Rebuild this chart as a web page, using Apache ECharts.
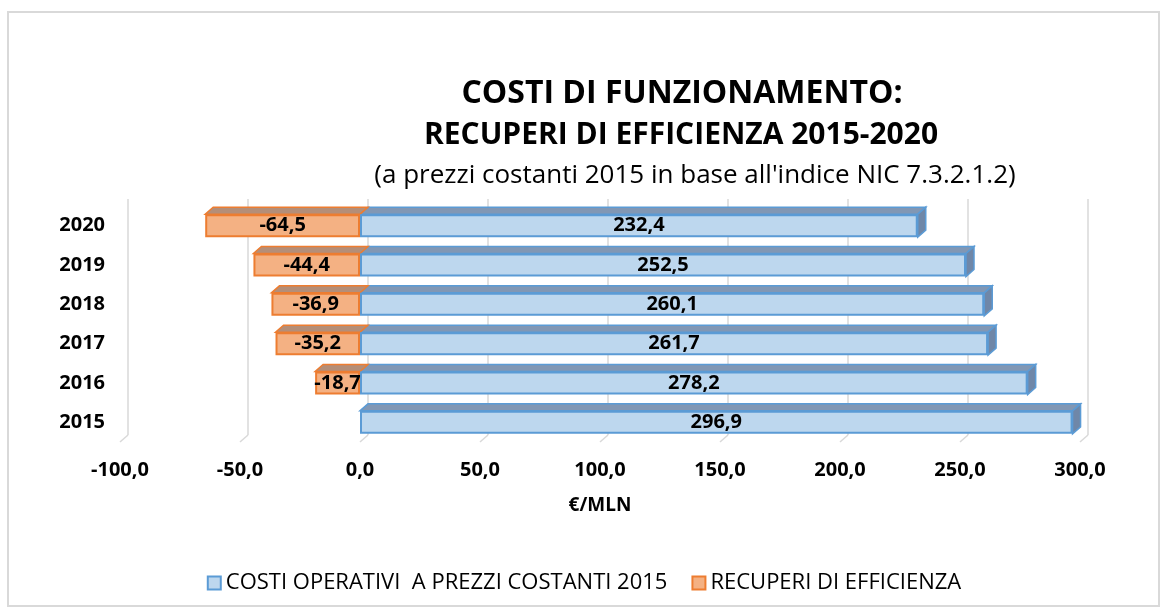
<!DOCTYPE html>
<html>
<head>
    <meta charset="UTF-8">
    <title>Costi di funzionamento: recuperi di efficienza 2015-2020</title>
    <style>
        html, body { margin: 0; padding: 0; background: #fff; }
        #chart { width: 1168px; height: 616px; }
    </style>
</head>
<body>
<div id="chart"></div>
<script src="https://cdn.jsdelivr.net/npm/echarts@6/dist/echarts.min.js"></script>
<script>
    // dati (dal basso verso l'alto)
    var anni = ['2015', '2016', '2017', '2018', '2019', '2020'];
    var costiOperativi = [296.9, 278.2, 261.7, 260.1, 252.5, 232.4];
    var recuperi = [null, -18.7, -35.2, -36.9, -44.4, -64.5];
    var tickX = [-100, -50, 0, 50, 100, 150, 200, 250, 300];

    var NOME_COSTI = 'COSTI OPERATIVI  A PREZZI COSTANTI 2015';
    var NOME_RECUPERI = 'RECUPERI DI EFFICIENZA';

    var DX = 8, DY = 7, BAR_H = 23;

    function fmt(v) {
        return Number(v).toFixed(1).replace('.', ',');
    }

    // facce superiore e laterale per l'effetto 3D
    function make3d(topColor, sideColor, border) {
        return function (params, api) {
            var v = api.value(0);
            if (v == null || isNaN(v)) return;
            var cat = api.value(1);
            var p0 = api.coord([0, cat]);
            var p1 = api.coord([v, cat]);
            var yT = p0[1] - BAR_H / 2, yB = p0[1] + BAR_H / 2;
            var xL = Math.min(p0[0], p1[0]), xR = Math.max(p0[0], p1[0]);
            var children = [{
                type: 'polygon',
                shape: { points: [[xL, yT], [xR, yT], [xR + DX, yT - DY], [xL + DX, yT - DY]] },
                style: { fill: topColor, stroke: border, lineWidth: 1.5 }
            }];
            if (v > 0) {
                children.push({
                    type: 'polygon',
                    shape: { points: [[xR, yT], [xR + DX, yT - DY], [xR + DX, yB - DY], [xR, yB]] },
                    style: { fill: sideColor, stroke: border, lineWidth: 1.5 }
                });
            }
            return { type: 'group', children: children };
        };
    }

    var chart = echarts.init(document.getElementById('chart'));

    var option = {
        backgroundColor: '#fff',
        textStyle: { fontFamily: 'Open Sans' },
        graphic: [{
            type: 'rect',
            shape: { x: 8, y: 12, width: 1151, height: 594 },
            style: { fill: 'none', stroke: '#D9D9D9', lineWidth: 2 },
            silent: true
        }],
        title: [{
            text: 'COSTI DI FUNZIONAMENTO:',
            left: 677,
            top: 73,
            textAlign: 'center',
            textStyle: {
                fontFamily: 'Open Sans',
                fontWeight: 'bold',
                fontSize: 32,
                color: '#000'
            }
        }, {
            text: 'RECUPERI DI EFFICIENZA 2015-2020',
            left: 676,
            top: 115,
            textAlign: 'center',
            textStyle: {
                fontFamily: 'Open Sans',
                fontWeight: 'bold',
                fontSize: 30,
                color: '#000'
            }
        }, {
            text: "(a prezzi costanti 2015 in base all'indice NIC 7.3.2.1.2)",
            left: 690,
            top: 158,
            textAlign: 'center',
            textStyle: {
                fontFamily: 'Open Sans',
                fontWeight: 'normal',
                fontSize: 26,
                color: '#000'
            }
        }],
        legend: {
            data: [NOME_COSTI, NOME_RECUPERI],
            icon: 'rect',
            left: 'center',
            top: 567,
            itemWidth: 13,
            itemHeight: 13,
            itemGap: 24,
            itemStyle: { borderWidth: 2 },
            textStyle: { fontFamily: 'Open Sans', fontSize: 22, color: '#000' }
        },
        grid: [
            { left: 120, right: 88, top: 206, height: 236 },
            { left: 128, right: 80, top: 199, height: 236 }
        ],
        xAxis: [{
            type: 'value',
            gridIndex: 0,
            min: -100,
            max: 300,
            interval: 50,
            axisLine: { show: false },
            axisTick: { show: false },
            splitLine: { show: false },
            axisLabel: {
                margin: 18,
                formatter: fmt,
                fontFamily: 'Open Sans',
                fontWeight: 'bold',
                fontSize: 20,
                color: '#000'
            },
            name: '€/MLN',
            nameLocation: 'middle',
            nameGap: 54,
            nameTextStyle: {
                fontFamily: 'Open Sans',
                fontWeight: 'bold',
                fontSize: 19,
                color: '#000'
            }
        }, {
            type: 'value',
            gridIndex: 1,
            min: -100,
            max: 300,
            interval: 50,
            axisLine: { show: false },
            axisTick: { show: false },
            axisLabel: { show: false },
            splitLine: { show: true, lineStyle: { color: '#D9D9D9', width: 1.5 } }
        }],
        yAxis: [{
            type: 'category',
            gridIndex: 0,
            data: anni,
            axisLine: { show: false },
            axisTick: { show: false },
            axisLabel: {
                margin: 15,
                fontFamily: 'Open Sans',
                fontWeight: 'bold',
                fontSize: 20,
                color: '#000'
            }
        }, {
            type: 'category',
            gridIndex: 1,
            data: anni,
            show: false
        }],
        series: [{
            // linee del pavimento sotto la griglia
            type: 'custom',
            xAxisIndex: 0,
            yAxisIndex: 0,
            silent: true,
            z: 0,
            data: tickX.map(function (t) { return [t, 0]; }),
            encode: { x: 0, y: 1 },
            renderItem: function (params, api) {
                var p = api.coord([api.value(0), 0]);
                var cs = params.coordSys;
                var yb = cs.y + cs.height;
                return {
                    type: 'line',
                    shape: { x1: p[0], y1: yb, x2: p[0] + DX, y2: yb - DY },
                    style: { stroke: '#D9D9D9', lineWidth: 1.5 }
                };
            }
        }, {
            type: 'custom',
            silent: true,
            z: 1,
            data: costiOperativi.map(function (v, i) { return [v, i]; }),
            encode: { x: 0, y: 1 },
            renderItem: make3d('#8197B4', '#6F87A8', '#5B9BD5')
        }, {
            type: 'custom',
            silent: true,
            z: 1,
            data: recuperi.map(function (v, i) { return [v, i]; }),
            encode: { x: 0, y: 1 },
            renderItem: make3d('#B48E78', '#A3806C', '#ED7D31')
        }, {
            name: NOME_COSTI,
            type: 'bar',
            z: 2,
            barWidth: BAR_H,
            barGap: '-100%',
            data: costiOperativi,
            itemStyle: { color: '#BDD7EE', borderColor: '#5B9BD5', borderWidth: 2 },
            label: {
                show: true,
                position: 'inside',
                formatter: function (p) { return fmt(p.value); },
                fontFamily: 'Open Sans',
                fontWeight: 'bold',
                fontSize: 20,
                color: '#000'
            }
        }, {
            name: NOME_RECUPERI,
            type: 'bar',
            z: 2,
            barWidth: BAR_H,
            barGap: '-100%',
            data: recuperi,
            itemStyle: { color: '#F4B183', borderColor: '#ED7D31', borderWidth: 2 },
            label: {
                show: true,
                position: 'inside',
                formatter: function (p) { return fmt(p.value); },
                fontFamily: 'Open Sans',
                fontWeight: 'bold',
                fontSize: 20,
                color: '#000'
            }
        }]
    };

    chart.setOption(option);
    window.onresize = function () { chart.resize(); };
</script>
</body>
</html>
